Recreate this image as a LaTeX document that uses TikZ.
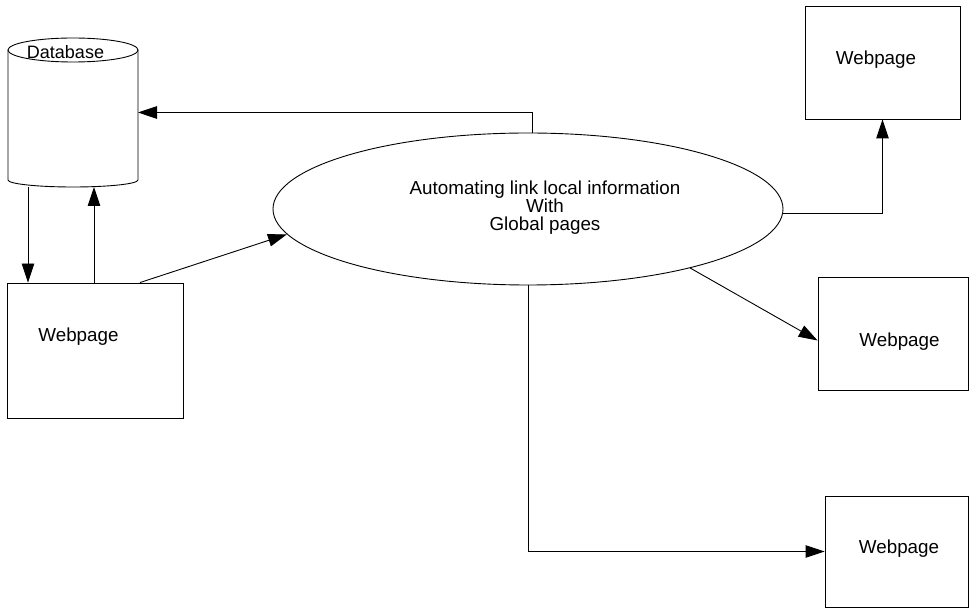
\documentclass[tikz,border=0pt]{standalone}
\usepackage{fontspec}
\setmainfont{Liberation Sans}
\usetikzlibrary{arrows.meta,shapes.geometric}
\begin{document}
\begin{tikzpicture}[x=1pt,y=-1pt,
  line width=0.9pt,
  every node/.style={font=\fontsize{18.8}{18}\selectfont},
  page/.style={draw, rectangle, inner sep=0pt},
  lbl/.style={inner sep=0pt, align=center},
  arr/.style={-{Triangle[length=19pt,width=12.5pt]}},
]
\useasboundingbox (0,0) rectangle (970,609);

% database: an invisible frame for anchors, the cylinder drawn over it
\node[minimum width=130pt, minimum height=149pt, inner sep=0pt, outer sep=0pt] (db) at (73,112.5) {};
\draw ([yshift=-12pt]db.north west) -- ([yshift=7pt]db.south west)
      arc[start angle=180, end angle=360, x radius=65pt, y radius=7pt]
      -- ([yshift=-12pt]db.north east);
\draw ([yshift=-12pt]db.north) ellipse[x radius=65pt, y radius=12pt];
\node[lbl, font=\fontsize{18}{18}\selectfont] (dbtext) at (65.5,52) {Database};

% central process
\node[draw, ellipse, minimum width=510pt, minimum height=152pt, inner sep=0pt] (ell) at (528,209) {};
\node[lbl] (elltext) at (545,208) {Automating link local information\\With\\Global pages};

% web pages
\node[page, minimum width=176pt, minimum height=135pt] (wl) at (95,350.5) {};
\node[page, minimum width=155pt, minimum height=113pt] (tr) at (882.5,62.5) {};
\node[page, minimum width=150pt, minimum height=113pt] (mr) at (893,333.5) {};
\node[page, minimum width=143pt, minimum height=111pt] (br) at (896.5,551.5) {};
\node[lbl] (wltext) at (78.5,337) {Webpage};
\node[lbl] (trtext) at (876,60) {Webpage};
\node[lbl] (mrtext) at (899.5,342) {Webpage};
\node[lbl] (brtext) at (899,549) {Webpage};

% connectors
\draw[arr] ([xshift=4pt]ell.north) |- (db.east);
\draw[arr] ([yshift=-4pt]ell.east) -| (tr.south);
\draw[arr] (ell.-20) -- ([yshift=-7pt]mr.west);
\draw[arr] (ell.south) |- (br.west);
\draw[arr] ([xshift=45pt]wl.north) -- (ell.186);
\draw[arr] (db.south -| 28,0) -- (wl.north -| 28,0);
\draw[arr] (wl.north -| 94,0) -- (db.south -| 94,0);
\end{tikzpicture}
\end{document}
